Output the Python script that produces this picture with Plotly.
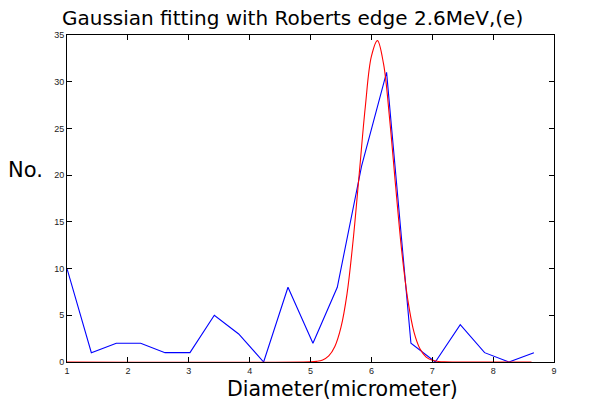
import plotly.graph_objects as go

# Histogram (blue)
bin_x = [1.00, 1.40, 1.81, 2.21, 2.61, 3.02, 3.42, 3.82, 4.23, 4.63,
         5.04, 5.44, 5.84, 6.25, 6.65, 7.05, 7.46, 7.86, 8.26, 8.67]
counts = [10, 1, 2, 2, 1, 1, 5, 3, 0, 8, 2, 8, 21, 31, 2, 0, 4, 1, 0, 1]

# Gaussian fit (red)
fit_x = [1.0, 5.0, 5.1, 5.2, 5.3, 5.4, 5.5, 5.6, 5.7, 5.8, 5.9, 6.0, 6.1,
         6.2, 6.3, 6.4, 6.5, 6.6, 6.7, 6.8, 6.9, 7.0, 7.1, 7.2, 8.63]
fit_y = [0.0, 0.02, 0.07, 0.22, 0.65, 1.66, 3.7, 7.3, 13.0, 20.1, 27.3, 32.7, 34.4,
         31.9, 26.0, 18.7, 11.8, 6.6, 3.2, 1.39, 0.53, 0.18, 0.06, 0.01, 0.0]

x_ticks = [1, 2, 3, 4, 5, 6, 7, 8, 9]
y_ticks = [0, 5, 10, 15, 20, 25, 30, 35]

title_text = "Gaussian fitting with Roberts edge 2.6MeV,(e)"
x_title = "Diameter(micrometer)"
y_title = "No."

TICKFONT = "Liberation Sans, Arial, Helvetica, sans-serif"
BIGFONT = "DejaVu Sans, Liberation Sans, sans-serif"

fig = go.Figure()
fig.add_trace(go.Scatter(x=bin_x, y=counts, mode="lines",
                         line=dict(color="#0000ff", width=1.1)))
fig.add_trace(go.Scatter(x=fit_x, y=fit_y, mode="lines", line_shape="spline",
                         line=dict(color="#ff0000", width=1.1)))

axis_common = dict(showgrid=False, zeroline=False, showline=True, linecolor="black",
                   linewidth=1, mirror="allticks", ticks="inside", ticklen=5,
                   tickcolor="black", tickwidth=1,
                   tickfont=dict(family=TICKFONT, size=9, color="#222"))

fig.update_xaxes(range=[1, 9], tickvals=x_ticks, **axis_common)
fig.update_yaxes(range=[0, 35], tickvals=y_ticks, **axis_common)

fig.update_layout(
    width=592, height=400,
    margin=dict(l=67, r=38, t=35, b=38),
    paper_bgcolor="white", plot_bgcolor="white",
    showlegend=False,
    font=dict(family=BIGFONT, color="black"),
    annotations=[
        dict(text=title_text, x=(292 - 67) / 487, y=1.052, xref="paper", yref="paper",
             showarrow=False, font=dict(size=20, family=BIGFONT, color="black"),
             xanchor="center", yanchor="middle"),
        dict(text=x_title, x=0.5665, y=(362 - 389) / 327, xref="paper", yref="paper",
             showarrow=False, font=dict(size=20.5, family=BIGFONT, color="black"),
             xanchor="center", yanchor="middle"),
        dict(text=y_title, x=-0.045, y=0.587, xref="paper", yref="paper",
             showarrow=False, font=dict(size=21, family=BIGFONT, color="black"),
             xanchor="right", yanchor="middle"),
    ],
)

fig.write_html("out.html")
